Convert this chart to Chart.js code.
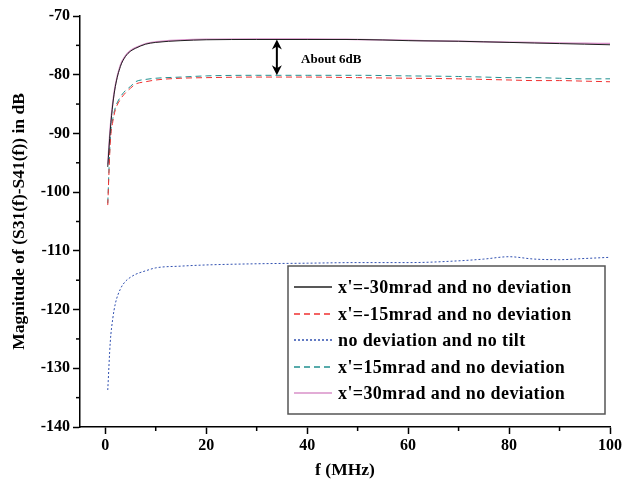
<!DOCTYPE html>
<html>
<head>
<meta charset="utf-8">
<script src="https://cdn.jsdelivr.net/npm/chart.js@4.4.1/dist/chart.umd.min.js"></script>
<style>
  body { margin: 0; background: #fff; }
</style>
</head>
<body>
<canvas id="myChart" width="635" height="481"></canvas>
<script>
// frequency points in MHz
const freq = [0.5, 1, 1.5, 2, 3, 4, 5, 6, 8, 10, 15, 20, 30, 40, 50, 60, 70, 75, 80, 85, 90, 95, 100];

const tiltM30 = [-95.7, -89.4, -85.0, -82.0, -78.6, -76.9, -76.0, -75.5, -74.8, -74.5, -74.2, -74.05, -74.0, -74.0, -74.0, -74.2, -74.3, -74.4, -74.5, -74.6, -74.7, -74.8, -74.9];
const tiltM15 = [-102.2, -91.5, -88.0, -86.0, -84.2, -83.1, -82.3, -81.6, -81.2, -80.9, -80.6, -80.5, -80.4, -80.4, -80.5, -80.6, -80.7, -80.8, -80.9, -81.0, -81.0, -81.1, -81.2];
const noTilt  = [-133.7, -125.5, -121.5, -119.0, -116.5, -115.2, -114.5, -114.0, -113.4, -112.9, -112.6, -112.4, -112.2, -112.1, -112.0, -112.0, -111.7, -111.4, -111.0, -111.4, -111.5, -111.3, -111.1];
const tiltP15 = [-101.9, -91.0, -87.5, -85.6, -83.8, -82.7, -82.0, -81.2, -80.8, -80.6, -80.4, -80.2, -80.1, -80.1, -80.1, -80.2, -80.3, -80.4, -80.5, -80.5, -80.6, -80.7, -80.7];
const tiltP30 = [-95.3, -89.0, -84.7, -81.8, -78.4, -76.8, -75.9, -75.4, -74.7, -74.4, -74.1, -73.95, -73.9, -73.9, -74.0, -74.15, -74.3, -74.4, -74.45, -74.5, -74.6, -74.65, -74.7];

const seriesLabels = [
    "x'=-30mrad and no deviation",
    "x'=-15mrad and no deviation",
    "no deviation and no tilt",
    "x'=15mrad and no deviation",
    "x'=30mrad and no deviation"
];

const serif = "'Liberation Serif', 'Times New Roman', serif";

function pts(ys) {
    return freq.map((f, i) => ({ x: f, y: ys[i] }));
}

// minor ticks between the labelled ones
const minorTicks = {
    id: "minorTicks",
    afterDraw(chart) {
        const c = chart.ctx;
        const xs = chart.scales.x, ys = chart.scales.y;
        c.save();
        c.strokeStyle = "#000";
        c.lineWidth = 1.5;
        for (let v = 10; v < 100; v += 20) {
            const px = xs.getPixelForValue(v);
            c.beginPath();
            c.moveTo(px, xs.top);
            c.lineTo(px, xs.top + 4);
            c.stroke();
        }
        for (let v = -135; v < -70; v += 10) {
            const py = ys.getPixelForValue(v);
            c.beginPath();
            c.moveTo(ys.right, py);
            c.lineTo(ys.right - 4, py);
            c.stroke();
        }
        c.restore();
    }
};

// double arrow with the "About 6dB" note
const gapNote = {
    id: "gapNote",
    afterDatasetsDraw(chart) {
        const c = chart.ctx;
        const xs = chart.scales.x, ys = chart.scales.y;
        const x = xs.getPixelForValue(34.0);
        const y1 = ys.getPixelForValue(-74.0);
        const y2 = ys.getPixelForValue(-80.1);
        c.save();
        c.strokeStyle = "#000";
        c.fillStyle = "#000";
        c.lineWidth = 2;
        c.beginPath();
        c.moveTo(x, y1 + 4);
        c.lineTo(x, y2 - 4);
        c.stroke();
        c.beginPath();
        c.moveTo(x, y1);
        c.lineTo(x - 5, y1 + 10);
        c.lineTo(x, y1 + 7);
        c.lineTo(x + 5, y1 + 10);
        c.closePath();
        c.fill();
        c.beginPath();
        c.moveTo(x, y2);
        c.lineTo(x - 5, y2 - 10);
        c.lineTo(x, y2 - 7);
        c.lineTo(x + 5, y2 - 10);
        c.closePath();
        c.fill();
        c.font = "bold 13px " + serif;
        c.textBaseline = "middle";
        c.fillText("About 6dB", xs.getPixelForValue(38.8), ys.getPixelForValue(-77.4));
        c.restore();
    }
};

// boxed legend inside the plot
const boxLegend = {
    id: "boxLegend",
    afterDraw(chart) {
        const c = chart.ctx;
        const a = chart.chartArea;
        const left = a.left + 208, top = a.top + 250;
        const w = 317, h = 148;
        c.save();
        c.fillStyle = "#fff";
        c.fillRect(left, top, w, h);
        c.strokeStyle = "#555";
        c.lineWidth = 1.5;
        c.strokeRect(left, top, w, h);
        c.font = "bold 18px " + serif;
        c.letterSpacing = "0.4px";
        c.textBaseline = "middle";
        chart.data.datasets.forEach((ds, i) => {
            const y = Math.round(top + 21 + i * 26.6);
            c.strokeStyle = ds.borderColor;
            c.lineWidth = 1.5;
            c.setLineDash(ds.borderDash || []);
            c.beginPath();
            c.moveTo(left + 6, y);
            c.lineTo(left + 44, y);
            c.stroke();
            c.setLineDash([]);
            c.fillStyle = "#000";
            c.fillText(ds.label, left + 50, y + 1);
        });
        c.restore();
    }
};

const ctx = document.getElementById("myChart").getContext("2d");
new Chart(ctx, {
    type: "line",
    data: {
        datasets: [
            { label: seriesLabels[0], data: pts(tiltM30), borderColor: "#202020", borderWidth: 1 },
            { label: seriesLabels[1], data: pts(tiltM15), borderColor: "#f03030", borderWidth: 1, borderDash: [6, 4] },
            { label: seriesLabels[2], data: pts(noTilt), borderColor: "#3050b0", borderWidth: 1, borderDash: [2, 2] },
            { label: seriesLabels[3], data: pts(tiltP15), borderColor: "#209090", borderWidth: 1, borderDash: [6, 4] },
            { label: seriesLabels[4], data: pts(tiltP30), borderColor: "#d890c8", borderWidth: 1.5 }
        ]
    },
    options: {
        responsive: false,
        animation: false,
        elements: {
            point: { radius: 0 },
            line: { cubicInterpolationMode: "monotone", fill: false }
        },
        layout: { padding: { top: 16, right: 25, left: 0, bottom: 0 } },
        plugins: {
            legend: { display: false },
            tooltip: { enabled: false }
        },
        scales: {
            x: {
                type: "linear",
                min: -5,
                max: 100,
                afterFit: (s) => { s.height = 54; },
                border: { color: "#000", width: 1.5 },
                grid: { drawOnChartArea: false, tickLength: 7, tickColor: "#000", tickWidth: 1.5 },
                ticks: {
                    stepSize: 20,
                    includeBounds: false,
                    color: "#000",
                    padding: 2,
                    font: { family: serif, size: 16, weight: "bold" }
                },
                title: {
                    display: true,
                    text: "f (MHz)",
                    color: "#000",
                    padding: { top: 0, bottom: 0 },
                    font: { family: serif, size: 17.5, weight: "bold" }
                }
            },
            y: {
                min: -140,
                max: -70,
                afterFit: (s) => { s.width = 80; },
                border: { color: "#000", width: 1.5 },
                grid: { drawOnChartArea: false, tickLength: 7, tickColor: "#000", tickWidth: 1.5 },
                ticks: {
                    stepSize: 10,
                    color: "#000",
                    padding: 3,
                    font: { family: serif, size: 16, weight: "bold" }
                },
                title: {
                    display: true,
                    text: "Magnitude of (S31(f)-S41(f)) in dB",
                    color: "#000",
                    padding: { top: 9, bottom: 0 },
                    font: { family: serif, size: 17.5, weight: "bold" }
                }
            }
        }
    },
    plugins: [minorTicks, gapNote, boxLegend]
});
</script>
</body>
</html>
